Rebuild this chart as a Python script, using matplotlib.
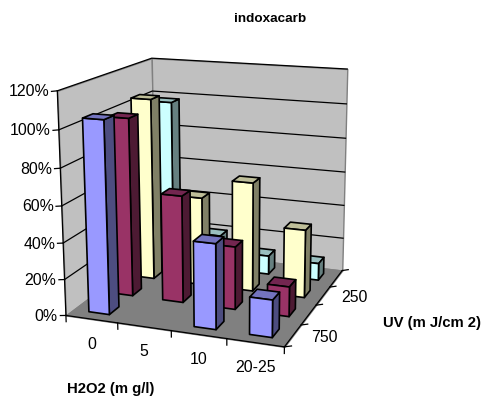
import numpy as np
import matplotlib
matplotlib.use("Agg")
import matplotlib.pyplot as plt
from mpl_toolkits.mplot3d.art3d import Poly3DCollection

plt.rcParams['font.family'] = ['Liberation Sans', 'DejaVu Sans']

TITLE = "indoxacarb"
XLABEL = "H2O2 (m g/l)"
YLABEL = "UV (m J/cm 2)"
categories = ["0", "5", "10", "20-25"]
depth_labels = ["750", "", "250", ""]
z_ticks = [0, 0.2, 0.4, 0.6, 0.8, 1.0, 1.2]

blue = [1.05, 0.0, 0.46, 0.20]
maroon = [1.00, 0.60, 0.35, 0.165]
yellow = [1.05, 0.51, 0.625, 0.387]
cyan = [0.98, 0.20, 0.11, 0.10]
series = [blue, maroon, yellow, cyan]

face_cols = ['#9999FF', '#993366', '#FFFFCC', '#CCFFFF']
top_cols = ['#7373BF', '#732650', '#BFBF99', '#99BFBF']
side_cols = ['#4D4D80', '#4D1A33', '#808066', '#668080']

W, H = 486, 406
# camera calibration: box corners (x, y, z) against their picture position
world = np.array([(0, 0, 1.2), (0, 0, 0), (0, 4, 1.2), (0, 4, 0), (4, 4, 1.2), (4, 4, 0), (4, 0, 0)], float)
pix = np.array([(57.3, 91.7), (66, 316.7), (151.7, 59.3), (155, 249.3), (347.3, 70), (342.3, 271.7), (284.3, 347.7)])


def fit_camera(w, p):
    rows = []
    for (X, Y, Z), (u, v) in zip(w, p):
        rows.append([X, Y, Z, 1, 0, 0, 0, 0, -u*X, -u*Y, -u*Z, -u])
        rows.append([0, 0, 0, 0, X, Y, Z, 1, -v*X, -v*Y, -v*Z, -v])
    P = np.linalg.svd(np.array(rows))[2][-1].reshape(3, 4)
    if P[2, 3] < 0:
        P = -P
    return P


P = fit_camera(world, pix)


def project(x, y, z):
    u, v, s = P @ np.array([x, y, z, 1.0])
    return u / s, v / s


fig = plt.figure(figsize=(W/100, H/100), dpi=100, facecolor='white')
ax = fig.add_axes([0, 0, 1, 1], projection='3d', computed_zorder=False)
ax.set_axis_off()


def get_proj():
    flip = np.array([[1, 0, 0], [0, -1, H], [0, 0, 1]], float)
    P2 = ax.transData.inverted().get_matrix() @ flip @ P
    return np.vstack([P2[0], P2[1], [0, 0, 0, -1], P2[2]])


ax.get_proj = get_proj


def label(x, y, z, dx, dy, s, **kw):
    u, v = project(x, y, z)
    fig.text((u + dx) / W, 1 - (v + dy) / H, s, **kw)


WALL = '#C0C0C0'
FLOOR = '#808080'
EDGE = '#808080'
ZT = z_ticks[-1]
walls = [
    ([(0, 0, 0), (0, 4, 0), (0, 4, ZT), (0, 0, ZT)], WALL),
    ([(0, 4, 0), (4, 4, 0), (4, 4, ZT), (0, 4, ZT)], WALL),
    ([(0, 0, 0), (4, 0, 0), (4, 4, 0), (0, 4, 0)], FLOOR),
]
for verts, c in walls:
    ax.add_collection3d(Poly3DCollection([verts], facecolor=c, edgecolor=EDGE, linewidth=1.0, zorder=1))

for z in z_ticks:
    if z > 0:
        ax.plot([0, 0, 4], [0, 4, 4], [z, z, z], color='black', lw=0.9, zorder=2)
    ax.plot([-0.11, 0], [0, 0], [z - 0.005, z], color='black', lw=0.9, zorder=2)
    label(0, 0, z, -8, 0, f"{z:.0%}", ha='right', va='center', fontsize=11.4)

ax.plot([0, 0], [0, 0], [0, ZT], color='black', lw=0.9, zorder=3)
ax.plot([0, 4, 4], [0, 0, 4], [0, 0, 0], color='black', lw=0.9, zorder=2)
for i in range(5):
    ax.plot([i, i], [0, 0], [0, -0.035], color='black', lw=0.9, zorder=2)
    ax.plot([4, 4.12], [i, i], [0, 0.01], color='black', lw=0.9, zorder=2)

for i, c in enumerate(categories):
    label(i + 0.5, 0, 0, 0, 24, c, ha='center', va='center', fontsize=11.4)
for j, lab in enumerate(depth_labels):
    if lab:
        label(4, j + 0.5, 0, 31, 1, lab, ha='center', va='center', fontsize=11.4)

BW = 0.4
order = 10
for j in range(3, -1, -1):
    for i in range(4):
        v = series[j][i]
        if v <= 0:
            continue
        # faces: bottom, top, front, back, left, right
        fc = ['none', top_cols[j], face_cols[j], 'none', 'none', side_cols[j]]
        ec = ['none', 'black', 'black', 'none', 'none', 'black']
        ax.bar3d([i + 0.5 - BW/2], [j + 0.5 - BW/2], [0], BW, BW, v, color=fc, edgecolor=ec,
                 linewidth=1.2, shade=False, zorder=order)
        order += 1

fig.text(270/W, 1 - 19/H, TITLE, ha='center', va='center', fontsize=9.7, fontweight='bold')
fig.text(111/W, 1 - 389/H, XLABEL, ha='center', va='center', fontsize=10.7, fontweight='bold')
fig.text(432/W, 1 - 323/H, YLABEL, ha='center', va='center', fontsize=10.7, fontweight='bold')

fig.savefig('out.png', dpi=100)
